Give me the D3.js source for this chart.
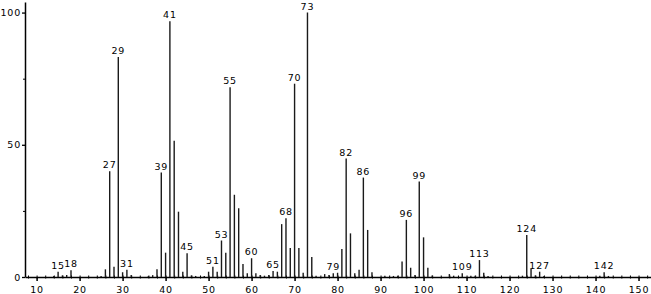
<!DOCTYPE html>
<html>
<head>
<meta charset="utf-8">
<script src="https://cdn.jsdelivr.net/npm/d3@7"></script>
<style>
  body { margin: 0; background: #fff; }
  text { font-family: "DejaVu Sans", sans-serif; }
</style>
</head>
<body>
<div id="my_dataviz"></div>
<script>
// m/z values and relative intensities
var masses = [14, 15, 16, 17, 18, 25, 26, 27, 28, 29, 30, 31, 32, 36, 37, 38, 39, 40, 41, 42,
  43, 44, 45, 46, 47, 49, 50, 51, 52, 53, 54, 55, 56, 57, 58, 59, 60, 61, 62, 63,
  64, 65, 66, 67, 68, 69, 70, 71, 72, 73, 74, 75, 77, 78, 79, 80, 81, 82, 83, 84,
  85, 86, 87, 88, 91, 93, 94, 95, 96, 97, 98, 99, 100, 101, 102, 106, 107, 109, 111, 112,
  113, 114, 115, 123, 124, 125, 126, 127, 128, 141, 142, 143];
var intensities = [0.4, 2.0, 0.6, 0.8, 2.6, 0.4, 2.9, 40, 3.9, 83.2, 1.8, 2.7, 0.8, 0.4, 0.7, 2.9, 39.5, 9.2, 96.7, 51.5,
  24.7, 2.0, 9.0, 0.6, 0.4, 0.4, 2.0, 3.9, 2.0, 13.8, 9.2, 71.8, 31.1, 26, 4.9, 1.4, 7.1, 1.4, 0.8, 0.5,
  0.8, 2.3, 2.0, 20, 22.2, 11, 73.1, 11, 1.6, 100, 7.6, 0.5, 1.1, 0.8, 1.4, 1.6, 10.6, 44.8, 16.5, 1.4,
  2.7, 37.6, 17.8, 1.8, 0.5, 0.4, 0.5, 5.9, 21.6, 3.5, 0.8, 36.1, 15, 3.5, 0.6, 1.1, 0.5, 1.4, 0.5, 0.5,
  6.4, 1.6, 0.4, 0.5, 15.9, 3.1, 0.6, 2.0, 0.4, 0.5, 1.8, 0.4];
var labelled = [15, 18, 27, 29, 31, 39, 41, 45, 51, 53, 55, 60, 65, 68, 70, 73, 79, 82, 86, 96, 99, 109, 113, 124, 127, 142];
var xTicks = [10, 20, 30, 40, 50, 60, 70, 80, 90, 100, 110, 120, 130, 140, 150];
var yTicks = [0, 50, 100];
var yMinor = [25, 75];

var vizx = 651, vizy = 294;

var svg = d3.select("#my_dataviz")
  .append("svg")
    .attr("width", vizx)
    .attr("height", vizy);

var data = masses.map(function(m, i) { return {mz: m, ab: intensities[i]}; });

var x = d3.scaleLinear().domain([7.3, 152.9]).range([25, 651]);
var y = d3.scaleLinear().domain([0, 104]).range([277, 2]);

// minor x ticks every 2 units
var minorX = d3.range(8, 153, 2);
var gMinor = svg.append("g")
  .attr("transform", "translate(0,277)")
  .call(d3.axisBottom(x).tickValues(minorX).tickSize(2).tickFormat(""));
gMinor.select(".domain").remove();
gMinor.selectAll("line").attr("y1", -1.5).attr("y2", 1.5).attr("stroke-width", 1);

// major x axis
var gx = svg.append("g")
  .attr("transform", "translate(0,277)")
  .call(d3.axisBottom(x).tickValues(xTicks).tickSize(4).tickSizeOuter(0));
gx.select(".domain").attr("stroke-width", 1.5);
gx.selectAll("line").attr("stroke-width", 1.5);
gx.selectAll("text")
  .attr("dy", "0.9em")
  .style("font-size", "9.5px")
  .style("letter-spacing", "0.8px")
  .attr("fill", "#000");

// y axis
var gy = svg.append("g")
  .attr("transform", "translate(25,0)")
  .call(d3.axisLeft(y).tickValues(yTicks).tickSize(3).tickSizeOuter(0));
gy.select(".domain").attr("stroke-width", 1.5);
gy.selectAll("line").attr("stroke-width", 1.3);
gy.selectAll("text")
  .attr("x", -4)
  .style("font-size", "9.5px")
  .style("letter-spacing", "0.8px")
  .attr("fill", "#000");

var gy2 = svg.append("g")
  .attr("transform", "translate(25,0)")
  .call(d3.axisLeft(y).tickValues(yMinor).tickSize(2).tickFormat(""));
gy2.select(".domain").remove();

// the peaks
svg.selectAll(".peak")
  .data(data)
  .enter()
  .append("line")
    .attr("class", "peak")
    .attr("x1", function(d) { return x(d.mz); })
    .attr("x2", function(d) { return x(d.mz); })
    .attr("y1", y(0))
    .attr("y2", function(d) { return y(d.ab); })
    .attr("stroke", "#1a1a1a")
    .attr("stroke-width", 1.4);

// peak labels
svg.selectAll(".lab")
  .data(data.filter(function(d) { return labelled.indexOf(d.mz) >= 0; }))
  .enter()
  .append("text")
    .attr("class", "lab")
    .attr("x", function(d) { return x(d.mz); })
    .attr("y", function(d) { return y(d.ab) - 3; })
    .attr("text-anchor", "middle")
    .style("font-size", "9.5px")
    .style("letter-spacing", "0.8px")
    .attr("fill", "#000")
    .text(function(d) { return d.mz; });
</script>
</body>
</html>
